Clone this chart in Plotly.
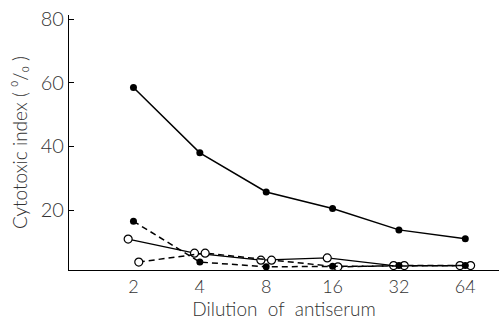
import plotly.graph_objects as go
import math

dilution = [2, 4, 8, 16, 32, 64]
# series values (% cytotoxic index)
solid_filled = [58.5, 38.0, 25.7, 20.5, 13.8, 11.0]
dashed_filled = [16.5, 3.7, 2.2, 2.4, 2.6, 2.6]
solid_open = [10.9, 6.5, 4.3, 5.0, 2.6, 2.6]
dashed_open = [3.7, 6.5, 4.3, 2.2, 2.6, 2.6]
x_ticks = [2, 4, 8, 16, 32, 64]
y_ticks = [20, 40, 60, 80]

def shift(xs, octaves):
    return [x * 2 ** octaves for x in xs]

fig = go.Figure()

fig.add_trace(go.Scatter(x=shift(dilution, -0.08), y=solid_open, mode="lines+markers",
                         line=dict(color="black", width=1.3),
                         marker=dict(symbol="circle", size=8, color="white",
                                     line=dict(color="black", width=1.2)),
                         showlegend=False))
fig.add_trace(go.Scatter(x=shift(dilution, 0.08), y=dashed_open, mode="lines+markers",
                         line=dict(color="black", width=1.5, dash="6px,4px"),
                         marker=dict(symbol="circle", size=8, color="white",
                                     line=dict(color="black", width=1.2)),
                         showlegend=False))
fig.add_trace(go.Scatter(x=dilution, y=dashed_filled, mode="lines+markers",
                         line=dict(color="black", width=1.5, dash="6px,4px"),
                         marker=dict(symbol="circle", size=7, color="black"),
                         showlegend=False))
fig.add_trace(go.Scatter(x=dilution, y=solid_filled, mode="lines+markers",
                         line=dict(color="black", width=1.5),
                         marker=dict(symbol="circle", size=7, color="black"),
                         showlegend=False))

font_family = "Lato, Liberation Sans, Arial, sans-serif"
txt = "#333"
fig.update_layout(
    width=499, height=320,
    margin=dict(l=69, r=0, t=15, b=50),
    paper_bgcolor="white", plot_bgcolor="white",
    font=dict(family=font_family, size=17, color=txt, weight=300),
    xaxis=dict(type="log", range=[math.log10(1.02), math.log10(91)],
               tickvals=x_ticks, ticktext=[str(v) for v in x_ticks],
               showgrid=False, zeroline=False, showline=True,
               linecolor="black", linewidth=1.2, ticks="",
               tickfont=dict(size=18, color=txt, weight=300),
               title=dict(text="Dilution  of  antiserum",
                          font=dict(size=19, color=txt, weight=300), standoff=6)),
    yaxis=dict(range=[1.2, 81.3], tickvals=y_ticks, ticktext=[str(v) for v in y_ticks],
               showgrid=False, zeroline=False, showline=True,
               linecolor="black", linewidth=1.2, ticks="inside", ticklen=5,
               tickcolor="black", tickfont=dict(size=20, color=txt, weight=300),
               title=dict(text="Cytotoxic index ( ⁰/₀ )",
                          font=dict(size=19, color=txt, weight=300), standoff=8)),
)

fig.write_html("out.html")
